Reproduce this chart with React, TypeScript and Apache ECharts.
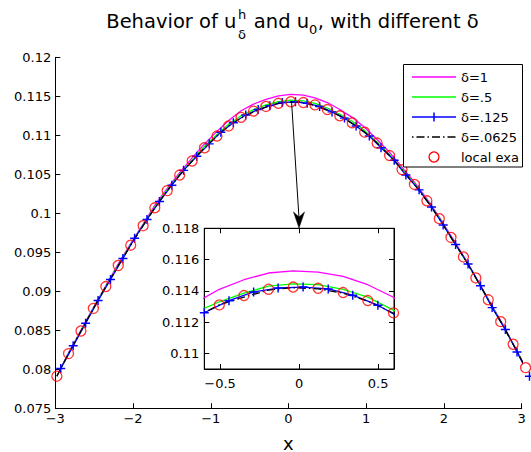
import React, { useEffect, useRef } from "react";
import * as echarts from "echarts";

// ---- main plot data ----
const circleX = [-2.98, -2.83, -2.67, -2.51, -2.35, -2.19, -2.03, -1.87, -1.72, -1.56, -1.4, -1.24, -1.08, -0.92, -0.77, -0.61, -0.45, -0.29, -0.13, 0.03, 0.19, 0.34, 0.5, 0.66, 0.82, 0.98, 1.14, 1.3, 1.46, 1.62, 1.78, 1.94, 2.09, 2.25, 2.41, 2.57, 2.73, 2.89, 3.05];
const exactY = [0.0791, 0.082, 0.0849, 0.0878, 0.0906, 0.0933, 0.0959, 0.0984, 0.1007, 0.1029, 0.1049, 0.1067, 0.1084, 0.1099, 0.1112, 0.1123, 0.1131, 0.1137, 0.1141, 0.1143, 0.1142, 0.1139, 0.1133, 0.1125, 0.1116, 0.1104, 0.109, 0.1074, 0.1056, 0.1037, 0.1016, 0.0993, 0.0969, 0.0944, 0.0917, 0.0889, 0.0861, 0.0832, 0.0802];
const delta1Y = [0.0791, 0.0821, 0.085, 0.0879, 0.0907, 0.0935, 0.0961, 0.0986, 0.101, 0.1032, 0.1052, 0.1071, 0.1089, 0.1105, 0.1119, 0.11315, 0.114, 0.1146, 0.11505, 0.11525, 0.11515, 0.1148, 0.1142, 0.1133, 0.1123, 0.111, 0.10945, 0.1078, 0.1059, 0.104, 0.10185, 0.0995, 0.0971, 0.09455, 0.0918, 0.089, 0.0862, 0.08325, 0.0802];
const delta05Y = [0.0791, 0.082, 0.0849, 0.0878, 0.0906, 0.0933, 0.096, 0.0985, 0.1008, 0.103, 0.105, 0.1068, 0.1086, 0.1101, 0.1114, 0.1125, 0.1133, 0.1139, 0.1143, 0.1145, 0.1144, 0.1141, 0.1135, 0.1127, 0.1118, 0.1106, 0.1091, 0.1075, 0.1057, 0.1038, 0.1017, 0.0994, 0.0969, 0.0944, 0.0917, 0.0889, 0.0861, 0.0832, 0.0802];
const delta0625Y = [0.0791, 0.082, 0.0849, 0.0878, 0.0906, 0.0933, 0.0959, 0.0984, 0.1007, 0.1029, 0.1049, 0.1067, 0.1084, 0.1099, 0.1112, 0.1122, 0.113, 0.1136, 0.1141, 0.11425, 0.1142, 0.1138, 0.1132, 0.1125, 0.1115, 0.1104, 0.109, 0.1074, 0.1056, 0.1037, 0.1016, 0.0993, 0.0969, 0.0944, 0.0917, 0.0889, 0.0861, 0.0832, 0.0802];
const plusX = [-2.93, -2.77, -2.61, -2.45, -2.29, -2.13, -1.98, -1.82, -1.66, -1.5, -1.35, -1.18, -1.02, -0.87, -0.71, -0.55, -0.39, -0.24, -0.08, 0.09, 0.24, 0.4, 0.56, 0.72, 0.87, 1.04, 1.19, 1.36, 1.51, 1.68, 1.84, 1.99, 2.15, 2.31, 2.47, 2.62, 2.79, 2.94, 3.1];
const delta0125Y = [0.0801, 0.083, 0.0859, 0.0888, 0.0915, 0.0942, 0.0968, 0.0992, 0.1015, 0.1036, 0.1055, 0.1073, 0.1089, 0.1104, 0.1116, 0.1126, 0.1133, 0.1138, 0.1142, 0.1143, 0.1141, 0.1137, 0.113, 0.1122, 0.1112, 0.1099, 0.1084, 0.1068, 0.1049, 0.103, 0.1008, 0.0985, 0.096, 0.0935, 0.0907, 0.0879, 0.0851, 0.0822, 0.0791];

// ---- inset data ----
const insetGridX = [-0.661, -0.505, -0.349, -0.194, -0.038, 0.12, 0.278, 0.434, 0.59, 0.75];
const insetDelta1Y = [0.1132, 0.1141, 0.11471, 0.11514, 0.11528, 0.1152, 0.11493, 0.11439, 0.11362, 0.1126];
const insetDelta05Y = [0.1126, 0.1133, 0.11385, 0.1143, 0.11445, 0.1144, 0.1141, 0.1136, 0.1128, 0.1119];
const insetDelta0625Y = [0.1123, 0.1131, 0.1136, 0.11405, 0.1142, 0.11413, 0.11385, 0.11335, 0.1126, 0.1116];
const insetPlusX = [-0.6, -0.444, -0.288, -0.133, 0.025, 0.184, 0.339, 0.498, 0.655];
const insetDelta0125Y = [0.1126, 0.11337, 0.11393, 0.11418, 0.11424, 0.11412, 0.11372, 0.11308, 0.1122];
const insetCircleX = [-0.505, -0.349, -0.194, -0.038, 0.12, 0.278, 0.434, 0.597];
const insetCircleY = [0.1131, 0.1137, 0.1141, 0.11424, 0.11416, 0.11389, 0.11338, 0.11259];

const insetXTicks = [-0.5, 0, 0.5];
const insetYTicks = [0.11, 0.112, 0.114, 0.116, 0.118];

const legendNames = ["δ=1", "δ=.5", "δ=.125", "δ=.0625", "local exa"];

const FAMILY = "DejaVu Sans";
const PLUS = "path://M4.2,0H5.8V4.2H10V5.8H5.8V10H4.2V5.8H0V4.2H4.2Z";

const zip = (xs: number[], ys: number[]) => xs.map((x, i) => [x, ys[i]]);
const fmtNum = (v: number) => {
  const n = Number(v.toFixed(4));
  return n < 0 ? "\u2212" + String(Math.abs(n)) : String(n);
};

function measure(text: string, size: number): number {
  const c = document.createElement("canvas");
  const ctx = c.getContext("2d");
  if (!ctx) return text.length * size * 0.6;
  ctx.font = `${size}px "${FAMILY}"`;
  return ctx.measureText(text).width;
}

export default function App() {
  const ref = useRef<HTMLDivElement>(null);
  useEffect(() => {
    if (!ref.current) return;
    const chart = echarts.init(ref.current, null, { renderer: "svg" });
    const labelStyle = { fontFamily: FAMILY, fontSize: 13, color: "#000" };
    const lineAx = { show: true, onZero: false, lineStyle: { color: "#000", width: 1 } };
    const tick = { show: true, inside: true, length: 5, lineStyle: { color: "#000", width: 1 } };

    const mainLine = (name: string, xs: number[], ys: number[], color: string, extra: any = {}) => ({
      name,
      type: "line",
      xAxisIndex: 0,
      yAxisIndex: 0,
      data: zip(xs, ys),
      symbol: "none",
      clip: false,
      lineStyle: { color, width: 1.3 },
      itemStyle: { color },
      z: 3,
      ...extra,
    });
    const insetLine = (name: string, xs: number[], ys: number[], color: string, extra: any = {}) => ({
      name,
      type: "line",
      xAxisIndex: 1,
      yAxisIndex: 1,
      data: zip(xs, ys),
      symbol: "none",
      clip: true,
      lineStyle: { color, width: 1.3 },
      itemStyle: { color },
      z: 6,
      ...extra,
    });

    const txt = (text: string, x: number, y: number, size: number, align = "left", z = 50) => ({
      type: "text",
      x,
      y,
      style: {
        text,
        fontFamily: FAMILY,
        fontSize: size,
        fill: "#000",
        align,
        verticalAlign: "middle",
        textAlign: align,
        textVerticalAlign: "middle",
      },
      z,
    });

    // title pieces, chained by measured widths and centred like the reference
    const TS = 19.5;
    const SS = 13;
    const pA = "Behavior of u";
    const pB = " and u";
    const pC = ", with different δ";
    const wA = measure(pA, TS);
    const wSup = Math.max(measure("h", SS), measure("δ", SS)) + 1.5;
    const wB = measure(pB, TS);
    const w0 = measure("0", SS) + 0.5;
    const wC = measure(pC, TS);
    const total = wA + 1.5 + wSup + wB + w0 + wC;
    const tx0 = 292.5 - total / 2;
    const xSup = tx0 + wA + 1.5;
    const xB = xSup + wSup;
    const x0 = xB + wB;
    const xC = x0 + w0;

    const legendItems: any[] = [];
    const ly = [77, 97, 117, 137, 157];
    legendItems.push({
      type: "rect",
      shape: { x: 403.5, y: 64.5, width: 119, height: 102.5 },
      style: { fill: "#fff", stroke: "#000", lineWidth: 1 },
      z: 100,
    });
    const sampleColors = ["#ff00ff", "#00ff00", "#0000ff", "#000000"];
    sampleColors.forEach((c, i) => {
      legendItems.push({
        type: "line",
        shape: { x1: 412, y1: ly[i], x2: 456, y2: ly[i] },
        style: { stroke: c, lineWidth: 1.3, lineDash: i === 3 ? [1.5, 3, 8, 3] : null },
        z: 101,
      });
    });
    legendItems.push({
      type: "line",
      shape: { x1: 434, y1: ly[2] - 4.5, x2: 434, y2: ly[2] + 4.5 },
      style: { stroke: "#0000ff", lineWidth: 1.5 },
      z: 101,
    });
    legendItems.push({
      type: "circle",
      shape: { cx: 434, cy: ly[4], r: 5 },
      style: { fill: "none", stroke: "#ff0000", lineWidth: 1.3 },
      z: 101,
    });
    legendNames.forEach((t, i) => legendItems.push(txt(t, 461, ly[i], 13, "left", 101)));

    const option: any = {
      animation: false,
      backgroundColor: "#fff",
      grid: [
        { left: 55.3, top: 57.3, width: 466.4, height: 350.9, outerBoundsMode: "none", containLabel: false },
        { left: 204.3, top: 228.3, width: 189.7, height: 140.7, outerBoundsMode: "none", containLabel: false, show: true, backgroundColor: "#fff", borderColor: "#000", borderWidth: 1, z: 5 },
      ],
      xAxis: [
        {
          type: "value", gridIndex: 0, min: -3, max: 3, interval: 1,
          axisLine: lineAx, axisTick: tick, splitLine: { show: false },
          axisLabel: { ...labelStyle, margin: 4, formatter: fmtNum, showMinLabel: true, showMaxLabel: true },
        },
        {
          type: "value", gridIndex: 1, min: -0.6, max: 0.6,
          axisLine: lineAx, axisTick: { ...tick, customValues: insetXTicks }, splitLine: { show: false },
          axisLabel: { ...labelStyle, margin: 8, formatter: fmtNum, customValues: insetXTicks },
          z: 6,
        },
        {
          type: "value", gridIndex: 1, min: -0.6, max: 0.6, position: "top",
          axisLine: lineAx, axisTick: { ...tick, customValues: insetXTicks }, splitLine: { show: false },
          axisLabel: { show: false }, z: 6,
        },
      ],
      yAxis: [
        {
          type: "value", gridIndex: 0, min: 0.075, max: 0.12, interval: 0.005,
          axisLine: lineAx, axisTick: tick, splitLine: { show: false },
          axisLabel: { ...labelStyle, margin: 4, formatter: fmtNum, showMinLabel: true, showMaxLabel: true },
        },
        {
          type: "value", gridIndex: 1, min: 0.109, max: 0.118,
          axisLine: lineAx, axisTick: { ...tick, customValues: insetYTicks }, splitLine: { show: false },
          axisLabel: { ...labelStyle, margin: 5, formatter: fmtNum, customValues: insetYTicks },
          z: 6,
        },
        {
          type: "value", gridIndex: 1, min: 0.109, max: 0.118, position: "right",
          axisLine: lineAx, axisTick: { ...tick, customValues: insetYTicks }, splitLine: { show: false },
          axisLabel: { show: false }, z: 6,
        },
      ],
      series: [
        mainLine("δ=1", circleX, delta1Y, "#ff00ff"),
        mainLine("δ=.5", circleX, delta05Y, "#00ff00"),
        mainLine("δ=.125", plusX, delta0125Y, "#0000ff", { symbol: PLUS, symbolSize: 9, showSymbol: true }),
        mainLine("δ=.0625", circleX, delta0625Y, "#000000", { lineStyle: { color: "#000", width: 1.3, type: [8, 3, 1.5, 3] } }),
        {
          name: "local exa", type: "scatter", xAxisIndex: 0, yAxisIndex: 0, clip: false,
          data: zip(circleX, exactY), symbol: "circle", symbolSize: 10, z: 4,
          itemStyle: { color: "rgba(0,0,0,0)", borderColor: "#ff0000", borderWidth: 1.3 },
        },
        insetLine("δ=1 inset", insetGridX, insetDelta1Y, "#ff00ff"),
        insetLine("δ=.5 inset", insetGridX, insetDelta05Y, "#00ff00"),
        insetLine("δ=.125 inset", insetPlusX, insetDelta0125Y, "#0000ff", { symbol: PLUS, symbolSize: 9, showSymbol: true }),
        insetLine("δ=.0625 inset", insetGridX, insetDelta0625Y, "#000000", { lineStyle: { color: "#000", width: 1.3, type: [8, 3, 1.5, 3] } }),
        {
          name: "local exa inset", type: "scatter", xAxisIndex: 1, yAxisIndex: 1, clip: false,
          data: zip(insetCircleX, insetCircleY), symbol: "circle", symbolSize: 10, z: 7,
          itemStyle: { color: "rgba(0,0,0,0)", borderColor: "#ff0000", borderWidth: 1.3 },
        },
      ],
      graphic: [
        txt(pA, tx0, 21.8, TS),
        txt("h", xSup, 14.1, SS),
        txt("δ", xSup, 34.1, SS),
        txt(pB, xB, 21.8, TS),
        txt("0", x0, 29.1, SS),
        txt(pC, xC, 21.8, TS),
        txt("x", 288.3, 443, 18, "center"),
        {
          type: "line",
          shape: { x1: 291.5, y1: 101, x2: 299, y2: 218 },
          style: { stroke: "#000", lineWidth: 1 },
          z: 50,
        },
        {
          type: "polygon",
          shape: { points: [[293.5, 212], [299, 217], [304.5, 212], [299, 228]] },
          style: { fill: "#000", stroke: "#000", lineWidth: 0.5 },
          z: 50,
        },
        ...legendItems,
      ],
    };
    chart.setOption(option);
    return () => chart.dispose();
  }, []);
  return <div ref={ref} style={{ position: "absolute", left: 0, top: 0, width: 531, height: 452 }} />;
}
